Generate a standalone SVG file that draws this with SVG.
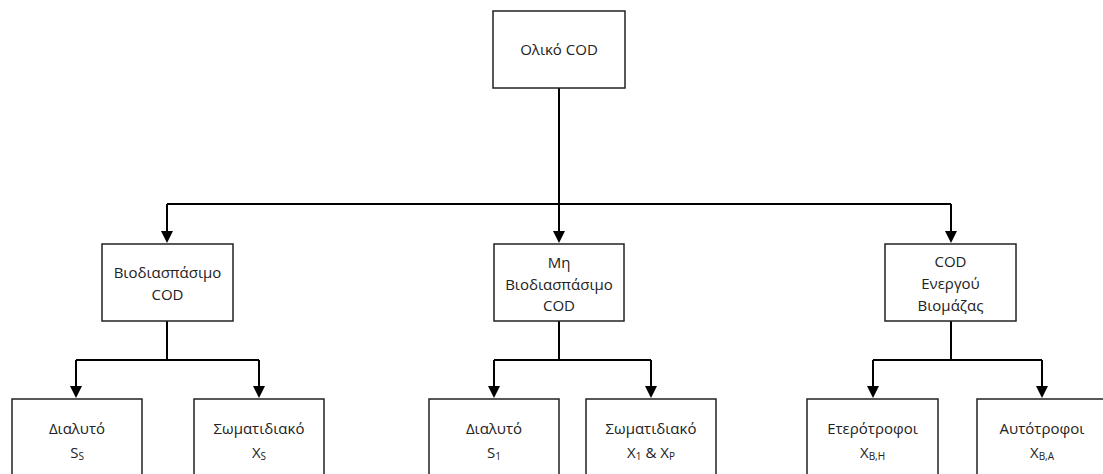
<svg xmlns="http://www.w3.org/2000/svg" width="1103" height="474" viewBox="0 0 1103 474">
<style>
.box{fill:#fff;stroke:#222;stroke-width:1.5}
.t{font-family:"Open Sans","Liberation Sans",sans-serif;font-size:15px;fill:#222;text-anchor:middle}
.sub{font-size:10px}
.c{fill:none;stroke:#000;stroke-width:2}
.ah{fill:#000}
</style>
<g id="connectors">
<path class="c" d="M559,88 V204"/>
<path class="c" d="M167,204 H951"/>
<path class="c" d="M167,204 V231"/>
<path class="c" d="M559,204 V231"/>
<path class="c" d="M951,204 V231"/>
<path class="ah" d="M161,231 L173,231 L167,243 Z"/>
<path class="ah" d="M553,231 L565,231 L559,243 Z"/>
<path class="ah" d="M945,231 L957,231 L951,243 Z"/>
<path class="c" d="M167,321 V360 M76,360 H259 M76,360 V386 M259,360 V386"/>
<path class="ah" d="M70,386 L82,386 L76,398 Z"/>
<path class="ah" d="M253,386 L265,386 L259,398 Z"/>
<path class="c" d="M559,321 V360 M494,360 H651 M494,360 V386 M651,360 V386"/>
<path class="ah" d="M488,386 L500,386 L494,398 Z"/>
<path class="ah" d="M645,386 L657,386 L651,398 Z"/>
<path class="c" d="M951,321 V360 M873,360 H1042 M873,360 V386 M1042,360 V386"/>
<path class="ah" d="M867,386 L879,386 L873,398 Z"/>
<path class="ah" d="M1036,386 L1048,386 L1042,398 Z"/>
</g>
<g id="n-total">
<rect class="box" x="493" y="11" width="132" height="77"/>
<text class="t" x="559" y="55">Ολικό COD</text>
</g>
<g id="n-bio">
<rect class="box" x="102" y="244" width="131" height="77"/>
<text class="t" x="167.5" y="278">Βιοδιασπάσιμο</text>
<text class="t" x="167.5" y="300">COD</text>
</g>
<g id="n-nonbio">
<rect class="box" x="494" y="244" width="130" height="77"/>
<text class="t" x="559" y="268">Μη</text>
<text class="t" x="559" y="290">Βιοδιασπάσιμο</text>
<text class="t" x="559" y="311">COD</text>
</g>
<g id="n-active">
<rect class="box" x="885" y="244" width="131" height="77"/>
<text class="t" x="950.5" y="267">COD</text>
<text class="t" x="950.5" y="289">Ενεργού</text>
<text class="t" x="950.5" y="311">Βιομάζας</text>
</g>
<g id="n-ss">
<rect class="box" x="12" y="399" width="130" height="90"/>
<text class="t" x="77" y="434">Διαλυτό</text>
<text class="t" x="77" y="458">S<tspan class="sub" dy="2">S</tspan></text>
</g>
<g id="n-xs">
<rect class="box" x="194" y="399" width="130" height="90"/>
<text class="t" x="259" y="434">Σωματιδιακό</text>
<text class="t" x="259" y="458">X<tspan class="sub" dy="2">S</tspan></text>
</g>
<g id="n-s1">
<rect class="box" x="429" y="399" width="130" height="90"/>
<text class="t" x="494" y="434">Διαλυτό</text>
<text class="t" x="494" y="458">S<tspan class="sub" dy="2">1</tspan></text>
</g>
<g id="n-x1xp">
<rect class="box" x="586" y="399" width="130" height="90"/>
<text class="t" x="651" y="434">Σωματιδιακό</text>
<text class="t" x="651" y="458">X<tspan class="sub" dy="2">1</tspan><tspan dy="-2"> &amp; X</tspan><tspan class="sub" dy="2">P</tspan></text>
</g>
<g id="n-xbh">
<rect class="box" x="807" y="399" width="131" height="90"/>
<text class="t" x="872.5" y="434">Ετερότροφοι</text>
<text class="t" x="872.5" y="458">X<tspan class="sub" dy="2">B,H</tspan></text>
</g>
<g id="n-xba">
<rect class="box" x="977" y="399" width="131" height="90"/>
<text class="t" x="1042" y="434">Αυτότροφοι</text>
<text class="t" x="1042" y="458">X<tspan class="sub" dy="2">B,A</tspan></text>
</g>
</svg>
